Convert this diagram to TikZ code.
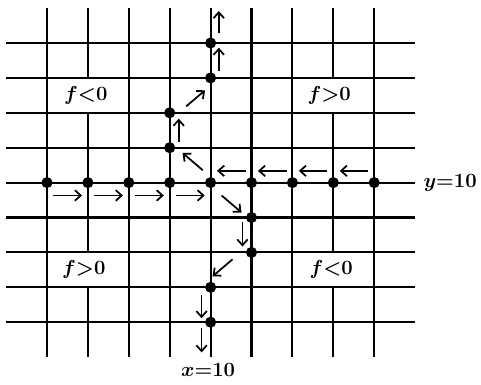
\documentclass[tikz,border=0pt]{standalone}
\usetikzlibrary{arrows.meta}

\begin{document}
\begin{tikzpicture}[
  x=1.227cm, y=-1.047cm,
  grid/.style={line width=1.8pt, black},
  dot/.style={circle, fill=black, inner sep=0pt, minimum size=9.5pt},
  arr/.style={-{Straight Barb[length=5pt, width=9pt]}, line width=1.5pt},
  lab/.style={font=\fontsize{16}{18}\selectfont\boldmath, inner sep=0pt}
]
  \useasboundingbox (-1.149,-1.232) rectangle (10.611,9.771);

  % grid, with gaps where the labels sit
  \foreach \r in {0,...,8}
    \draw[grid] (-1,\r) -- (9,\r);
  \foreach \c in {0,2,3,4,5,6,8}
    \draw[grid] (\c,-1) -- (\c,9);
  \foreach \c in {1,7}
    \draw[grid] (\c,-1) -- (\c,1) (\c,2) -- (\c,6) (\c,7) -- (\c,9);

  % points on y=10
  \foreach \i in {0,...,8}
    \node[dot] (h\i) at (\i,4) {};
  % upper branch
  \node[dot] (u1) at (3,3) {};
  \node[dot] (u2) at (3,2) {};
  \node[dot] (u3) at (4,1) {};
  \node[dot] (u4) at (4,0) {};
  \coordinate (top) at (4,-1);
  % lower branch
  \node[dot] (d1) at (5,5) {};
  \node[dot] (d2) at (5,6) {};
  \node[dot] (d3) at (4,7) {};
  \node[dot] (d4) at (4,8) {};
  \coordinate (bot) at (4,9);

  % arrows along y=10
  \foreach \a/\b in {h0/h1,h1/h2,h2/h3,h3/h4}
    \draw[arr, shorten <=5pt, shorten >=5pt] ([yshift=-11pt]\a.center) -- ([yshift=-11pt]\b.center);
  \foreach \a/\b in {h8/h7,h7/h6,h6/h5,h5/h4}
    \draw[arr, shorten <=5pt, shorten >=5.5pt] ([yshift=10pt]\a.center) -- ([yshift=10pt]\b.center);

  % upward path
  \draw[arr, shorten <=11.8pt, shorten >=11.4pt] ([shift={(2.3pt,2.9pt)}]h4.center) -- ([shift={(2.3pt,2.9pt)}]u1.center);
  \draw[arr, shorten <=5pt, shorten >=5pt] ([xshift=7.7pt]u1.center) -- ([xshift=7.7pt]u2.center);
  \draw[arr, shorten <=14.3pt, shorten >=10.5pt] ([shift={(3.2pt,-3.8pt)}]u2.center) -- ([shift={(3.2pt,-3.8pt)}]u3.center);
  \draw[arr, shorten <=6pt, shorten >=4pt] ([xshift=7pt]u3.center) -- ([xshift=7pt]u4.center);
  \draw[arr, shorten <=8.5pt, shorten >=2.5pt] ([xshift=7pt]u4.center) -- ([xshift=7pt]top);

  % downward path
  \draw[arr, shorten <=14.3pt, shorten >=9.2pt] ([shift={(-1.5pt,-1.7pt)}]h4.center) -- ([shift={(-1.5pt,-1.7pt)}]d1.center);
  \draw[arr, shorten <=4pt, shorten >=5pt] ([xshift=-7.7pt]d1.center) -- ([xshift=-7.7pt]d2.center);
  \draw[arr, shorten <=16pt, shorten >=7.5pt] ([shift={(-4pt,4.5pt)}]d2.center) -- ([shift={(-4pt,4.5pt)}]d3.center);
  \draw[arr, shorten <=6.8pt, shorten >=3.4pt] ([xshift=-7.7pt]d3.center) -- ([xshift=-7.7pt]d4.center);
  \draw[arr, shorten <=5pt, shorten >=4pt] ([xshift=-7.7pt]d4.center) -- ([xshift=-7.7pt]bot);

  % regions and axes
  \node[lab] (nw) at (0.95,1.5) {$f{<}0$};
  \node[lab] (ne) at (6.9,1.5) {$f{>}0$};
  \node[lab] (sw) at (0.9,6.5) {$f{>}0$};
  \node[lab] (se) at (6.95,6.5) {$f{<}0$};
  \node[lab, anchor=west] (ylab) at (9.2,4) {$y{=}10$};
  \node[lab] (xlab) at (3.94,9.37) {$x{=}10$};
\end{tikzpicture}
\end{document}
